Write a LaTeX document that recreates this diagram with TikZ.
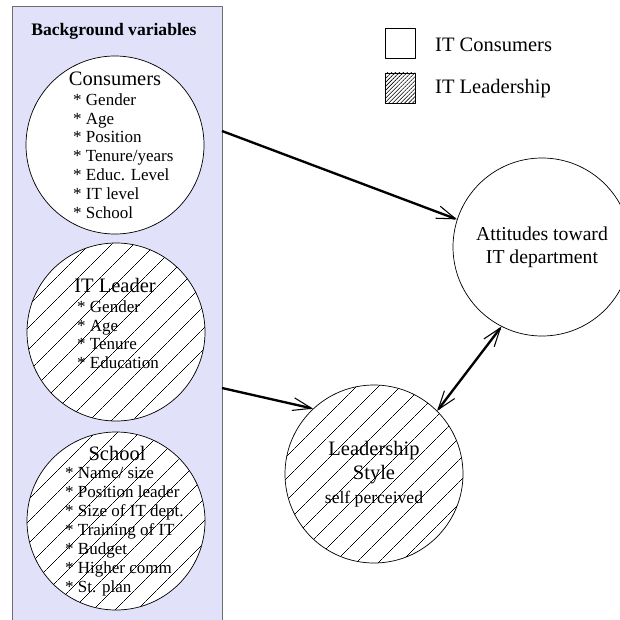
\documentclass[tikz,border=0pt]{standalone}
\usepackage{fontspec}
\setmainfont{Liberation Serif}
\usetikzlibrary{arrows.meta,patterns.meta}
\definecolor{panel}{HTML}{E1E1FA}
\definecolor{frame}{HTML}{6E6E6E}

\begin{document}
\begin{tikzpicture}[x=0.03cm,y=-0.03cm,line join=round,
  var/.style={circle,draw,line width=0.6pt,fill=white,minimum size=5.34cm,inner sep=0pt},
  hatched/.style={var,postaction={pattern={Lines[angle=45,distance=13pt,line width=0.5pt]}}},
  head/.style={font=\fontsize{17.5}{20}\selectfont,inner sep=0pt},
  items/.style={font=\fontsize{14.5}{16.2}\selectfont,align=left,anchor=north west,inner sep=0pt},
  legbox/.style={draw,line width=0.7pt,minimum size=0.9cm,inner sep=0pt,fill=white},
  legtext/.style={font=\fontsize{17.5}{20}\selectfont,anchor=west,inner sep=0pt},
  barb/.tip={Straight Barb[length=16pt,width=11pt,line width=0.9pt]},
  link/.style={line width=2pt,-barb},
  both/.style={line width=2pt,barb-barb}]
  \useasboundingbox (0,0) rectangle (620,619);
  \clip (0,0) rectangle (620,619);

  % left panel with the background variables
  \fill[panel] (12,6) rectangle (222,630);
  \draw[frame,line width=0.8pt] (12,630) -- (12,6) -- (222,6) -- (222,630);
  \node[font=\bfseries\fontsize{15}{18}\selectfont] (bgtitle) at (114,31) {Background variables};

  \node[var] (cons) at (115,145) {};
  \node[head] (cons-t) at (115,79) {Consumers};
  \node[items] (cons-i) at (73,93) {* Gender\\* Age\\* Position\\* Tenure/years\\* Educ. Level\\* IT level\\* School};

  \node[hatched] (lead) at (116,332) {};
  \node[head] (lead-t) at (115,285) {IT Leader};
  \node[items] (lead-i) at (77,300) {* Gender\\* Age\\* Tenure\\* Education};

  \node[hatched] (school) at (116,521) {};
  \node[head] (school-t) at (117,453) {School};
  \node[items] (school-i) at (65,467) {* Name/ size\\* Position leader\\* Size of IT dept.\\* Training of IT\\* Budget\\* Higher comm\\* St. plan};

  % outcome side
  \node[var,font=\fontsize{16.8}{19.6}\selectfont,align=center] (att) at (542,247)
    {Attitudes toward\\IT department};
  \node[hatched,font=\fontsize{17.5}{20.5}\selectfont,align=center] (style) at (374,474)
    {Leadership\\Style\\{\fontsize{15}{17}\selectfont self perceived}};

  % legend
  \node[legbox] (key-cons) at (400,43.5) {};
  \node[legtext] (key-cons-t) at (435,45) {IT Consumers};
  \node[legbox,postaction={pattern={Lines[angle=45,distance=2.4pt,line width=0.5pt]}}] (key-lead) at (400,88) {};
  \node[legtext] (key-lead-t) at (435,89) {IT Leadership};

  \coordinate (cons-out) at (222,131);
  \coordinate (lead-out) at (222,388);
  \draw[link] (cons-out) -- (att.162);
  \draw[link] (lead-out) -- (style.133);
  \draw[both] (att.243) -- (style.45);
\end{tikzpicture}
\end{document}
